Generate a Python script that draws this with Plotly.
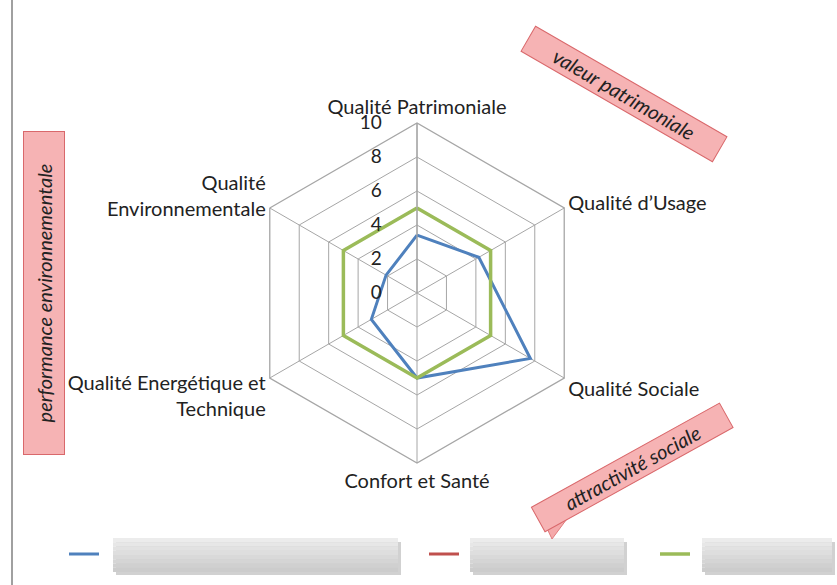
import plotly.graph_objects as go

W, H = 837, 585

# axes du radar
categories = [
    "Qualité Patrimoniale",
    "Qualité d’Usage",
    "Qualité Sociale",
    "Confort et Santé",
    "Qualité Energétique et<br>Technique",
    "Qualité<br>Environnementale",
]
serie_bleue = [3.4, 4.2, 7.7, 5.0, 3.1, 2.1]
serie_rouge = [0, 0, 0, 0, 0, 0]
serie_verte = [5, 5, 5, 5, 5, 5]
radial_ticks = [0, 2, 4, 6, 8, 10]


def closed(vals):
    return vals + vals[:1]


def px(x):
    return x / W


def py(y):
    return 1 - y / H


def tick_label(v):
    # blancs braille : écartent les chiffres de l'axe et les alignent à droite
    s = str(v)
    return ("\u2800" if len(s) == 1 else "") + s + "\u2800\u2800"


fig = go.Figure()
fig.add_trace(go.Scatterpolar(r=closed(serie_bleue), theta=closed(categories), mode="lines",
                              line=dict(color="#4F81BD", width=3), name=" ",
                              legend="legend", showlegend=True))
fig.add_trace(go.Scatterpolar(r=closed(serie_rouge), theta=closed(categories), mode="lines",
                              line=dict(color="#C0504D", width=3), name=" ",
                              legend="legend2", showlegend=True))
fig.add_trace(go.Scatterpolar(r=closed(serie_verte), theta=closed(categories), mode="lines",
                              line=dict(color="#9BBB59", width=3.5), name=" ",
                              legend="legend3", showlegend=True))

grid = "#a6a6a6"
fig.update_layout(
    width=W, height=H,
    margin=dict(l=0, r=0, t=0, b=0),
    paper_bgcolor="white",
    showlegend=True,
    font=dict(family="Lato", size=20, color="#222222"),
    polar=dict(
        domain=dict(x=[px(247), px(587)], y=[py(463), py(123)]),
        gridshape="linear",
        bgcolor="white",
        radialaxis=dict(range=[0, 10], tickvals=radial_ticks, angle=90, tickangle=90,
                        ticktext=[tick_label(v) for v in radial_ticks],
                        showline=True, linecolor=grid, linewidth=1.3,
                        gridcolor=grid, gridwidth=1.3, ticks="",
                        tickfont=dict(size=19, color="#222222"), side="counterclockwise"),
        angularaxis=dict(rotation=90, direction="clockwise", showline=True,
                         linecolor=grid, linewidth=1.3, gridcolor=grid, gridwidth=1.3,
                         ticks="", tickfont=dict(size=20, color="#222222")),
    ),
)

# trois légendes séparées, comme dans l'original
leg_common = dict(orientation="h", yanchor="middle", y=py(554), xanchor="left",
                  bgcolor="rgba(0,0,0,0)", font=dict(size=12))
fig.update_layout(
    legend=dict(x=px(64), **leg_common),
    legend2=dict(x=px(424), **leg_common),
    legend3=dict(x=px(655), **leg_common),
)

# cadres gris qui masquent les libellés
shapes = []
for x0, x1 in [(113, 398), (470, 624), (702, 832)]:
    y0, y1 = 538, 572
    shapes.append(dict(type="rect", xref="paper", yref="paper", x0=px(x0 + 3), x1=px(x1 + 3),
                       y0=py(y0 + 4), y1=py(y1 + 3), fillcolor="rgba(0,0,0,0.18)", line_width=0))
    n = 8
    for i in range(n):
        c = int(236 - (236 - 204) * i / (n - 1))
        ya = y0 + (y1 - y0) * i / n
        yb = y0 + (y1 - y0) * (i + 1) / n
        shapes.append(dict(type="rect", xref="paper", yref="paper", x0=px(x0), x1=px(x1),
                           y0=py(yb), y1=py(ya), fillcolor=f"rgb({c},{c},{c})", line_width=0))

# pointe de la bulle "attractivité sociale"
shapes.append(dict(type="path", xref="paper", yref="paper",
                   path=f"M {px(544)},{py(522)} L {px(552)},{py(539)} L {px(575)},{py(508)} Z",
                   fillcolor="#f4a9aa", line=dict(color="#e07b7d", width=1)))

# trait vertical à gauche
shapes.append(dict(type="line", xref="paper", yref="paper", x0=px(12), x1=px(12), y0=0, y1=1,
                   line=dict(color="#a0a0a0", width=2)))
fig.update_layout(shapes=shapes)

bubble = dict(xref="paper", yref="paper", showarrow=False, bgcolor="#f6b3b4",
              xanchor="center", yanchor="middle",
              bordercolor="#d9686b", borderwidth=1, borderpad=3,
              font=dict(family="Lato", size=20, color="#222222", style="italic"))
fig.add_annotation(x=px(624), y=py(94), text="valeur patrimoniale", textangle=30,
                   width=214, height=22, **bubble)
fig.add_annotation(x=px(632), y=py(467), text="attractivité sociale", textangle=-29,
                   width=208, height=21, **bubble)
fig.add_annotation(x=px(44), y=py(293), text="performance environnementale", textangle=-90,
                   width=316, height=34, **bubble)

# la page HTML a une marge de 8 px par défaut
fig.write_html("out.html", config={"displayModeBar": False},
               post_script="document.body.style.margin='0';")
